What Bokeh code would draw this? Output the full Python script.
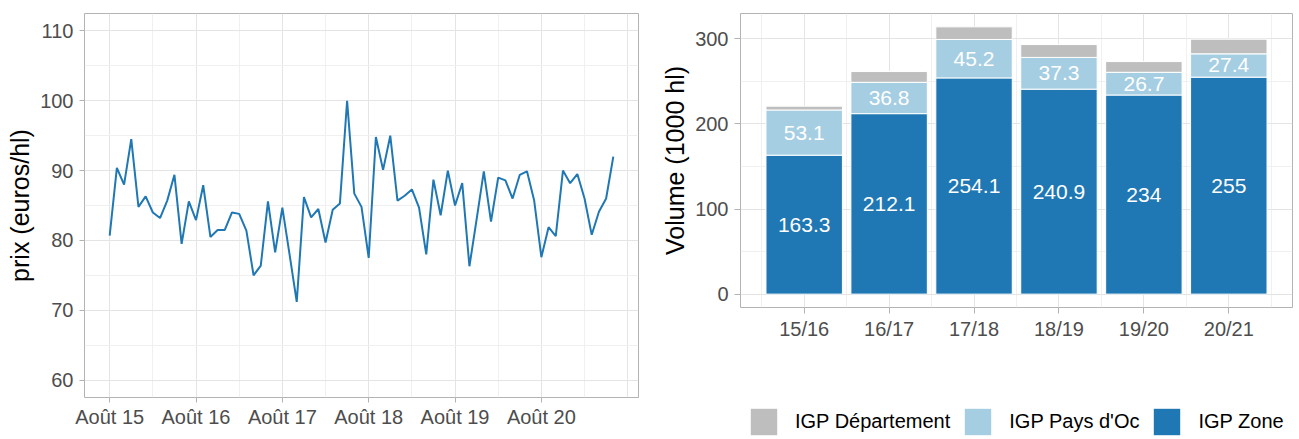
from bokeh.plotting import figure
from bokeh.layouts import row, column
from bokeh.models import FixedTicker, ColumnDataSource, Legend, LegendItem, Range1d
from bokeh.core.properties import value
from bokeh.embed import file_html
from bokeh.resources import INLINE

# ---------------- data ----------------
# monthly price, Aug 2015 .. Jun 2021 (euros/hl)
prix = [80.7, 90.4, 88.0, 94.5, 84.8, 86.3, 84.0, 83.2, 85.7, 89.4, 79.5, 85.6,
        82.9, 87.9, 80.5, 81.5, 81.5, 84.0, 83.8, 81.4, 75.0, 76.4, 85.6, 78.3,
        84.7, 78.0, 71.2, 86.2, 83.3, 84.5, 79.7, 84.4, 85.3, 100.0, 86.7, 84.8,
        77.5, 94.8, 90.1, 95.0, 85.7, 86.4, 87.3, 84.7, 78.0, 88.7, 83.6, 90.0,
        85.0, 88.2, 76.3, 83.0, 89.9, 82.7, 89.0, 88.6, 86.0, 89.4, 89.9, 85.7,
        77.6, 81.9, 80.6, 90.0, 88.2, 89.5, 86.0, 80.8, 84.1, 86.0, 92.0]
year_tick_labels = ["Août 15", "Août 16", "Août 17", "Août 18", "Août 19", "Août 20"]

campagnes = ["15/16", "16/17", "17/18", "18/19", "19/20", "20/21"]
igp_zone = [163.3, 212.1, 254.1, 240.9, 234, 255]
igp_oc = [53.1, 36.8, 45.2, 37.3, 26.7, 27.4]
igp_dept = [4.5, 12.7, 14.8, 15.1, 12.6, 17.2]
series_names = ["IGP Département", "IGP Pays d'Oc", "IGP Zone"]

# ---------------- style ----------------
FONT = "Liberation Sans"
GRID_MAJ = "#E4E4E4"
GRID_MIN = "#F0F0F0"
BORDER = "#B3B3B3"
TICKTXT = "#4D4D4D"
C_ZONE = "#1F78B4"
C_OC = "#A6CEE3"
C_DEPT = "#BEBEBE"


def no_align(p):
    try:
        p.frame_align = False
    except Exception:
        pass


def style(p):
    p.outline_line_color = BORDER
    p.outline_line_width = 1
    p.background_fill_color = "white"
    no_align(p)
    for ax in p.axis:
        ax.axis_line_color = None
        ax.major_tick_line_color = BORDER
        ax.major_tick_in = 0
        ax.major_tick_out = 5
        ax.minor_tick_line_color = None
        ax.major_label_text_font = FONT
        ax.major_label_text_font_size = "20px"
        ax.major_label_text_color = TICKTXT
        ax.axis_label_text_font = FONT
        ax.axis_label_text_font_size = "25px"
        ax.axis_label_text_font_style = "normal"
        ax.axis_label_text_color = "black"
    for g in (p.xgrid, p.ygrid):
        g.grid_line_color = GRID_MAJ
        g.grid_line_width = 1
        g.minor_grid_line_color = GRID_MIN
        g.minor_grid_line_width = 1


# ---------------- left: price line ----------------
months = list(range(len(prix)))
p1 = figure(width=658, height=439, output_backend="svg", toolbar_location=None,
            x_range=Range1d(-3.5, 73.5), y_range=Range1d(57.5, 112.5),
            min_border_left=84, min_border_right=20, min_border_top=13,
            min_border_bottom=42)
p1.line(months, prix, line_color=C_ZONE, line_width=2)
style(p1)
year_pos = [12 * i for i in range(len(year_tick_labels))]
p1.xaxis.ticker = FixedTicker(ticks=year_pos)
p1.xaxis.major_label_overrides = {t: l for t, l in zip(year_pos, year_tick_labels)}
p1.xaxis.major_label_standoff = 3
p1.xgrid.ticker = FixedTicker(ticks=year_pos + [72], minor_ticks=[6, 18, 30, 42, 54, 66])
p1.yaxis.ticker = FixedTicker(ticks=[60, 70, 80, 90, 100, 110])
p1.ygrid.ticker = FixedTicker(ticks=[60, 70, 80, 90, 100, 110], minor_ticks=[65, 75, 85, 95, 105])
p1.yaxis.axis_label = "prix (euros/hl)"
p1.yaxis.major_label_standoff = 6
p1.yaxis.axis_label_standoff = 3

# ---------------- right: stacked bars ----------------
xs = list(range(1, len(campagnes) + 1))
zo = [a + b for a, b in zip(igp_zone, igp_oc)]
tot = [a + b for a, b in zip(zo, igp_dept)]
src = ColumnDataSource(dict(
    x=xs, zone=igp_zone, zo=zo, tot=tot,
    zone_mid=[z / 2 for z in igp_zone],
    oc_mid=[z + o / 2 for z, o in zip(igp_zone, igp_oc)],
    zone_lbl=[f"{v:g}" for v in igp_zone],
    oc_lbl=[f"{v:g}" for v in igp_oc],
))

p2 = figure(width=641, height=345, output_backend="svg", toolbar_location=None,
            x_range=Range1d(0.25, 6.75), y_range=Range1d(-15.7, 329.8),
            min_border_left=80, min_border_right=7, min_border_top=13,
            min_border_bottom=38)
bar_kw = dict(x="x", width=0.9, line_color="white", line_width=1, source=src)
p2.vbar(bottom=0, top="zone", fill_color=C_ZONE, **bar_kw)
p2.vbar(bottom="zone", top="zo", fill_color=C_OC, **bar_kw)
p2.vbar(bottom="zo", top="tot", fill_color=C_DEPT, **bar_kw)
txt_kw = dict(x="x", source=src, text_align="center", text_baseline="middle",
              text_color="white", text_font_size="21px", text_font=value(FONT))
p2.text(y="zone_mid", text="zone_lbl", **txt_kw)
p2.text(y="oc_mid", text="oc_lbl", **txt_kw)
style(p2)
p2.xaxis.ticker = FixedTicker(ticks=xs)
p2.xaxis.major_label_overrides = {x: c for x, c in zip(xs, campagnes)}
p2.xaxis.major_label_standoff = 4
p2.xaxis.major_tick_out = 6
p2.xgrid.ticker = FixedTicker(ticks=xs, minor_ticks=[x - 0.5 for x in xs] + [6.5])
p2.yaxis.ticker = FixedTicker(ticks=[0, 100, 200, 300])
p2.ygrid.ticker = FixedTicker(ticks=[0, 100, 200, 300], minor_ticks=[50, 150, 250])
p2.yaxis.axis_label = "Volume (1000 hl)"
p2.yaxis.major_tick_out = 6
p2.yaxis.major_label_standoff = 6
p2.yaxis.axis_label_standoff = 3

# ---------------- legend strip under the bar chart ----------------
pl = figure(width=641, height=94, output_backend="svg", toolbar_location=None,
            x_range=Range1d(0, 1), y_range=Range1d(0, 1),
            x_axis_location=None, y_axis_location=None,
            min_border_left=0, min_border_right=0, min_border_top=0,
            min_border_bottom=0)
pl.outline_line_color = None
pl.grid.visible = False
no_align(pl)
leg_colors = [C_DEPT, C_OC, C_ZONE]
dummy = []
for c in leg_colors:
    dummy.append(pl.vbar(x=[-5], bottom=[-5], top=[-4], width=0.5,
                         fill_color=c, line_color=None))
legend = Legend(
    items=[LegendItem(label=n, renderers=[r]) for n, r in zip(series_names, dummy)],
    orientation="horizontal", location=(89, 1),
    glyph_width=33, glyph_height=33, label_standoff=15, spacing=11,
    padding=0, margin=0, border_line_color=None, background_fill_alpha=0,
    label_text_font=FONT, label_text_font_size="20px", label_text_color="black",
)
pl.add_layout(legend)

layout = row(p1, column(p2, pl))
open("out.html", "w").write(file_html(layout, INLINE))
